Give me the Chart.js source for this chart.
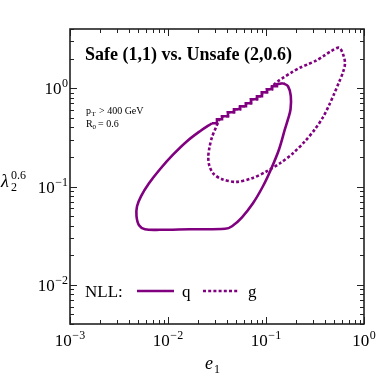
<!DOCTYPE html>
<html>
<head>
<meta charset="utf-8">
<script src="https://cdn.jsdelivr.net/npm/chart.js@4/dist/chart.umd.min.js"></script>
<style>
html,body{margin:0;padding:0;background:#fff;}
#wrap{width:382px;height:377px;position:relative;}
</style>
</head>
<body>
<div id="wrap"><canvas id="c"></canvas></div>
<script>
// ---- data ----
// quark (solid) contour: smooth part, then the binned staircase along the upper-left edge
const Q_X = [0.149,0.1677,0.179,0.178,0.1677,0.156,0.136,0.1125,0.0931,0.0736,0.0569,0.045,0.0382,0.01677,0.00828,0.00582,0.00506,0.00477,0.00483,0.0053,0.0064,0.00828,0.01125,0.01563,0.0212,0.0281];
const Q_Y = [1.124,1.048,0.835,0.611,0.484,0.383,0.2395,0.150,0.1007,0.0676,0.0487,0.0395,0.0372,0.0368,0.0363,0.0368,0.0404,0.0499,0.0630,0.0796,0.108,0.150,0.2107,0.289,0.365,0.4406];
const Q_STAIR_X = [0.0281,0.0316,0.0316,0.0356,0.0356,0.0409,0.0409,0.0471,0.0471,0.0543,0.0543,0.0625,0.0625,0.0703,0.0703,0.0809,0.0809,0.0910,0.0910,0.1023,0.1023,0.1151,0.1151,0.1294,0.1294,0.149];
const Q_STAIR_Y = [0.4406,0.4406,0.4838,0.4838,0.519,0.519,0.570,0.570,0.6113,0.6113,0.656,0.656,0.704,0.704,0.773,0.773,0.829,0.829,0.911,0.911,0.977,0.977,1.048,1.048,1.098,1.124];
// gluon (dotted) contour
const G_X = [0.0339,0.0309,0.0281,0.02652,0.02576,0.02652,0.02944,0.0356,0.0494,0.0719,0.100,0.139,0.1886,0.250,0.316,0.382,0.440,0.494,0.556,0.611,0.640,0.611,0.556,0.460,0.391,0.3236,0.2685,0.2225,0.184,0.1528,0.1324,0.1151];
const G_Y = [0.495,0.401,0.317,0.251,0.1987,0.1609,0.1334,0.1187,0.1114,0.1215,0.1414,0.1726,0.218,0.289,0.383,0.507,0.671,0.869,1.151,1.455,1.796,2.218,2.583,2.379,2.141,1.905,1.754,1.616,1.455,1.294,1.178,1.048];
const G_STAIR_X = [0.1151,0.1151,0.1023,0.1023,0.0910,0.0910,0.0809,0.0809,0.0703,0.0703,0.0625,0.0625,0.0543,0.0543,0.0471,0.0471,0.0409,0.0409,0.0356,0.0339];
const G_STAIR_Y = [1.048,0.977,0.977,0.911,0.911,0.829,0.829,0.773,0.773,0.704,0.704,0.656,0.656,0.6113,0.6113,0.570,0.570,0.519,0.519,0.495];
const X_MAJOR = [0.001,0.01,0.1,1];
const X_LABEL_EXP = ["\u22123","\u22122","\u22121","0"];
const Y_MAJOR = [0.01,0.1,1];
const Y_LABEL_EXP = ["\u22122","\u22121","0"];
const TITLE = "Safe (1,1) vs. Unsafe (2,0.6)";
const LEGEND_LABELS = ["q","g"];
const COLOR = "#800080";

function pts(xs, ys){ return xs.map((x,i)=>({x:x, y:ys[i]})); }

const SERIF = '"Liberation Serif","DejaVu Serif",serif';

function drawPow(ctx, exp, x, y, align){
  ctx.font = '17px ' + SERIF;
  const wb = ctx.measureText('10').width;
  ctx.font = '12px ' + SERIF;
  const we = ctx.measureText(exp).width;
  const w = wb + we + 0.5;
  let x0 = align === 'center' ? x - w/2 : x - w;
  ctx.textAlign = 'left';
  ctx.textBaseline = 'alphabetic';
  ctx.font = '17px ' + SERIF;
  ctx.fillText('10', x0, y);
  ctx.font = '12px ' + SERIF;
  ctx.fillText(exp, x0 + wb + 0.5, y - 7);
}

const deco = {
  id: 'deco',
  afterDraw(chart){
    const ctx = chart.ctx;
    const a = chart.chartArea;
    const xs = chart.scales.x, ys = chart.scales.y;
    ctx.save();
    ctx.fillStyle = '#000';
    ctx.strokeStyle = '#222';
    ctx.lineWidth = 1;
    ctx.beginPath();
    for (let k=-3;k<=0;k++){
      for (let m=1;m<=9;m++){
        const v = m*Math.pow(10,k);
        if (v < xs.min*0.999 || v > xs.max*1.001) continue;
        const px = Math.round(xs.getPixelForValue(v))+0.5;
        const L = m===1 ? 7 : 4;
        ctx.moveTo(px, a.bottom); ctx.lineTo(px, a.bottom - L);
        ctx.moveTo(px, a.top); ctx.lineTo(px, a.top + L);
      }
    }
    for (let k=-3;k<=0;k++){
      for (let m=1;m<=9;m++){
        const v = m*Math.pow(10,k);
        if (v < ys.min*0.999 || v > ys.max*1.001) continue;
        const py = Math.round(ys.getPixelForValue(v))+0.5;
        const L = m===1 ? 7 : 4;
        ctx.moveTo(a.left, py); ctx.lineTo(a.left + L, py);
        ctx.moveTo(a.right, py); ctx.lineTo(a.right - L, py);
      }
    }
    ctx.stroke();
    ctx.lineWidth = 1.6;
    ctx.strokeRect(a.left, a.top, a.right-a.left, a.bottom-a.top);
    X_MAJOR.forEach((v,i)=>{
      drawPow(ctx, X_LABEL_EXP[i], xs.getPixelForValue(v), a.bottom + 22, 'center');
    });
    Y_MAJOR.forEach((v,i)=>{
      drawPow(ctx, Y_LABEL_EXP[i], a.left - 2, ys.getPixelForValue(v) + 6, 'right');
    });
    ctx.textAlign = 'left'; ctx.textBaseline = 'alphabetic';
    ctx.font = 'italic 18px ' + SERIF;
    ctx.fillText('e', 205, 369);
    ctx.font = '12px ' + SERIF;
    ctx.fillText('1', 214, 373);
    ctx.font = 'italic 18px ' + SERIF;
    ctx.fillText('\u03bb', 1, 187);
    ctx.font = '12px ' + SERIF;
    ctx.fillText('2', 11, 191);
    ctx.fillText('0.6', 11, 179);
    ctx.font = 'bold 18px ' + SERIF;
    ctx.fillText(TITLE, 85, 60);
    ctx.font = '10px ' + SERIF;
    ctx.fillText('p', 86, 114);
    ctx.font = '7px ' + SERIF;
    ctx.fillText('T', 91.5, 116);
    ctx.font = '10px ' + SERIF;
    ctx.fillText('> 400 GeV', 99, 114);
    ctx.fillText('R', 86, 127);
    ctx.font = '7px ' + SERIF;
    ctx.fillText('0', 92.5, 129);
    ctx.font = '10px ' + SERIF;
    ctx.fillText('= 0.6', 98, 127);
    ctx.font = '17px ' + SERIF;
    ctx.fillText('NLL:', 85, 297);
    ctx.strokeStyle = COLOR;
    ctx.lineWidth = 2.6;
    ctx.beginPath(); ctx.moveTo(137, 291); ctx.lineTo(174, 291); ctx.stroke();
    ctx.setLineDash([3,2.2]);
    ctx.beginPath(); ctx.moveTo(203, 291); ctx.lineTo(239, 291); ctx.stroke();
    ctx.setLineDash([]);
    ctx.fillText(LEGEND_LABELS[0], 182, 297);
    ctx.fillText(LEGEND_LABELS[1], 248, 297);
    ctx.restore();
  }
};

const base = { showLine: true, borderColor: COLOR, borderWidth: 2.6, pointRadius: 0, fill: false };
new Chart(document.getElementById('c'), {
  type: 'scatter',
  data: {
    datasets: [
      Object.assign({ label: 'q', data: pts(Q_X,Q_Y), tension: 0.35 }, base),
      Object.assign({ label: 'q', data: pts(Q_STAIR_X,Q_STAIR_Y), tension: 0 }, base),
      Object.assign({ label: 'g', data: pts(G_X,G_Y), tension: 0.3, borderDash: [3,2.2] }, base),
      Object.assign({ label: 'g', data: pts(G_STAIR_X,G_STAIR_Y), tension: 0, borderDash: [3,2.2] }, base)
    ]
  },
  options: {
    responsive: true,
    maintainAspectRatio: false,
    devicePixelRatio: 1,
    animation: false,
    layout: { padding: { left: 70, right: 18, top: 29, bottom: 53 } },
    plugins: { legend: { display: false }, tooltip: { enabled: false } },
    scales: {
      x: { type: 'logarithmic', min: 0.001, max: 1, display: false },
      y: { type: 'logarithmic', min: 0.004, max: 4, display: false }
    }
  },
  plugins: [deco]
});
</script>
</body>
</html>
